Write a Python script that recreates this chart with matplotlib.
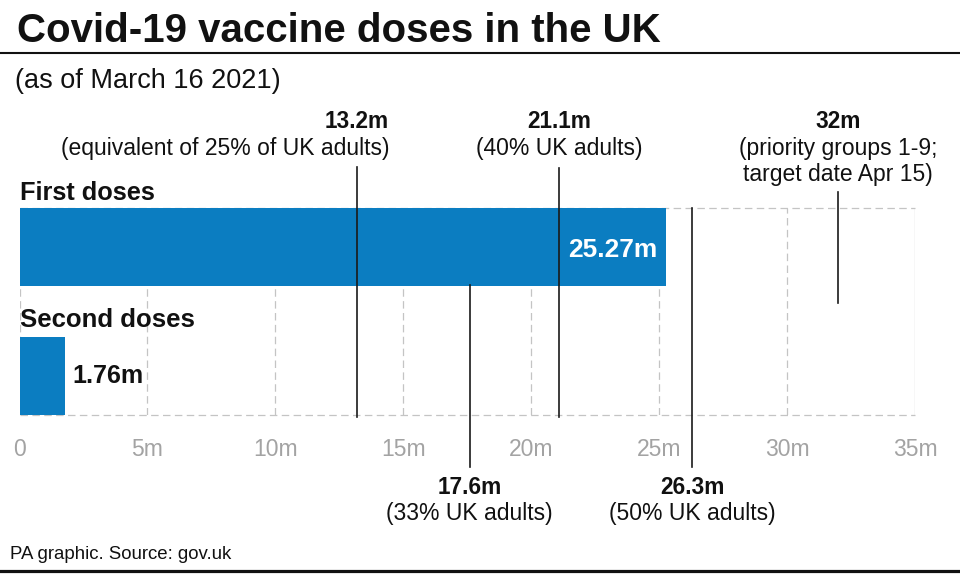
import matplotlib
matplotlib.use("Agg")
import matplotlib.pyplot as plt
from matplotlib.lines import Line2D
from matplotlib.transforms import blended_transform_factory

# ---- data ----
categories = ["First doses", "Second doses"]
doses = [25.27, 1.76]
dose_labels = ["25.27m", "1.76m"]
marker_values = [13.2, 17.6, 21.1, 26.3, 32]
marker_titles = ["13.2m", "17.6m", "21.1m", "26.3m", "32m"]
marker_notes = [["(equivalent of 25% of UK adults)"], ["(33% UK adults)"],
                ["(40% UK adults)"], ["(50% UK adults)"],
                ["(priority groups 1-9;", "target date Apr 15)"]]
tick_values = [0, 5, 10, 15, 20, 25, 30, 35]
tick_labels = ["0", "5m", "10m", "15m", "20m", "25m", "30m", "35m"]

# ---- style ----
plt.rcParams['font.family'] = ['Liberation Sans', 'DejaVu Sans']
BLUE = "#0B7DC1"
GRID = "#c4c4c4"
W, H = 960, 577

fig = plt.figure(figsize=(W / 100, H / 100), dpi=100)
ax = fig.add_axes([19.5 / W, 1 - 415 / H, (915 - 19.5) / W, (415 - 208) / H])

ypos = [1, 0]
bar_h = 0.605
ax.set_xlim(0, 35)
ax.set_ylim(-bar_h / 2, 1 + bar_h / 2)
for s in ax.spines.values():
    s.set_visible(False)
ax.set_yticks([])
ax.set_xticks(tick_values)
ax.set_xticklabels(tick_labels, fontsize=16.5, color="#a3a3a3")
ax.tick_params(axis='x', length=0, pad=16.5)

# grid box
dash = (0, (6, 3.5))
ax.vlines(tick_values[:-1], 0, 1, transform=blended_transform_factory(ax.transData, ax.transAxes),
          colors=GRID, linewidth=0.9, linestyles=[dash], zorder=1)
ax.axvline(tick_values[-1], 0, 1, color=GRID, linewidth=0.9, zorder=1)
ax.axhline(ax.get_ylim()[1], color=GRID, linewidth=0.9, linestyle=dash, zorder=1, clip_on=False)
ax.axhline(ax.get_ylim()[0], color=GRID, linewidth=0.9, linestyle=dash, zorder=1, clip_on=False)

# bars
ax.barh(ypos, doses, height=bar_h, color=BLUE, zorder=2)

# figure-pixel y helper with data x
bt = blended_transform_factory(ax.transData, fig.transFigure)
def fy(py):
    return 1 - py / H

# bar value labels
ax.text(doses[0] - 0.35, fy(257), dose_labels[0], transform=bt, ha='right', va='baseline',
        fontsize=19, fontweight='bold', color='white', zorder=5)
ax.text(doses[1] + 0.3, fy(383), dose_labels[1], transform=bt, ha='left', va='baseline',
        fontsize=18, fontweight='bold', color='#111111', zorder=5)

# category labels
ax.text(0.02, fy(200), categories[0], transform=bt, ha='left', va='baseline',
        fontsize=18.3, fontweight='bold', color='#111111')
ax.text(0.02, fy(327), categories[1], transform=bt, ha='left', va='baseline',
        fontsize=18.5, fontweight='bold', color='#111111')

# reference marker lines (pixel extents) and labels
line_ext = [(167, 417), (285, 467), (168, 417), (208, 467), (192, 303)]
label_pos = ['top', 'bottom', 'top', 'bottom', 'top']
for v, (y0, y1), t, notes, pos in zip(marker_values, line_ext, marker_titles, marker_notes, label_pos):
    ax.add_line(Line2D([v, v], [fy(y0), fy(y1)], transform=bt, color='#1a1a1a',
                       linewidth=1.2, zorder=4, clip_on=False))
    if pos == 'top':
        if v == marker_values[0]:
            tx, ha = v + 1.25, 'right'
        else:
            tx, ha = v, 'center'
        base = [128, 155, 181]
    else:
        tx, ha = v, 'center'
        base = [494, 520]
    ax.text(tx, fy(base[0]), t, transform=bt, ha=ha, va='baseline', fontsize=16.3,
            fontweight='bold', color='#111111')
    for i, n in enumerate(notes):
        ax.text(tx, fy(base[i + 1]), n, transform=bt, ha=ha, va='baseline', fontsize=16.5,
                color='#111111')

# title, subtitle, source
fig.text(17 / W, fy(42), "Covid-19 vaccine doses in the UK", ha='left', va='baseline',
         fontsize=29, fontweight='bold', color='#111111')
fig.text(15 / W, fy(88), "(as of March 16 2021)", ha='left', va='baseline',
         fontsize=19.5, color='#111111')
fig.text(10 / W, fy(559), "PA graphic. Source: gov.uk", ha='left', va='baseline',
         fontsize=13.4, color='#111111')

fig.add_artist(Line2D([0, 1], [fy(53), fy(53)], transform=fig.transFigure, color='#111111', linewidth=1.5))
fig.add_artist(Line2D([0, 1], [fy(570.5), fy(570.5)], transform=fig.transFigure, color='#111111', linewidth=2.3))

fig.savefig("out.png", dpi=100)
